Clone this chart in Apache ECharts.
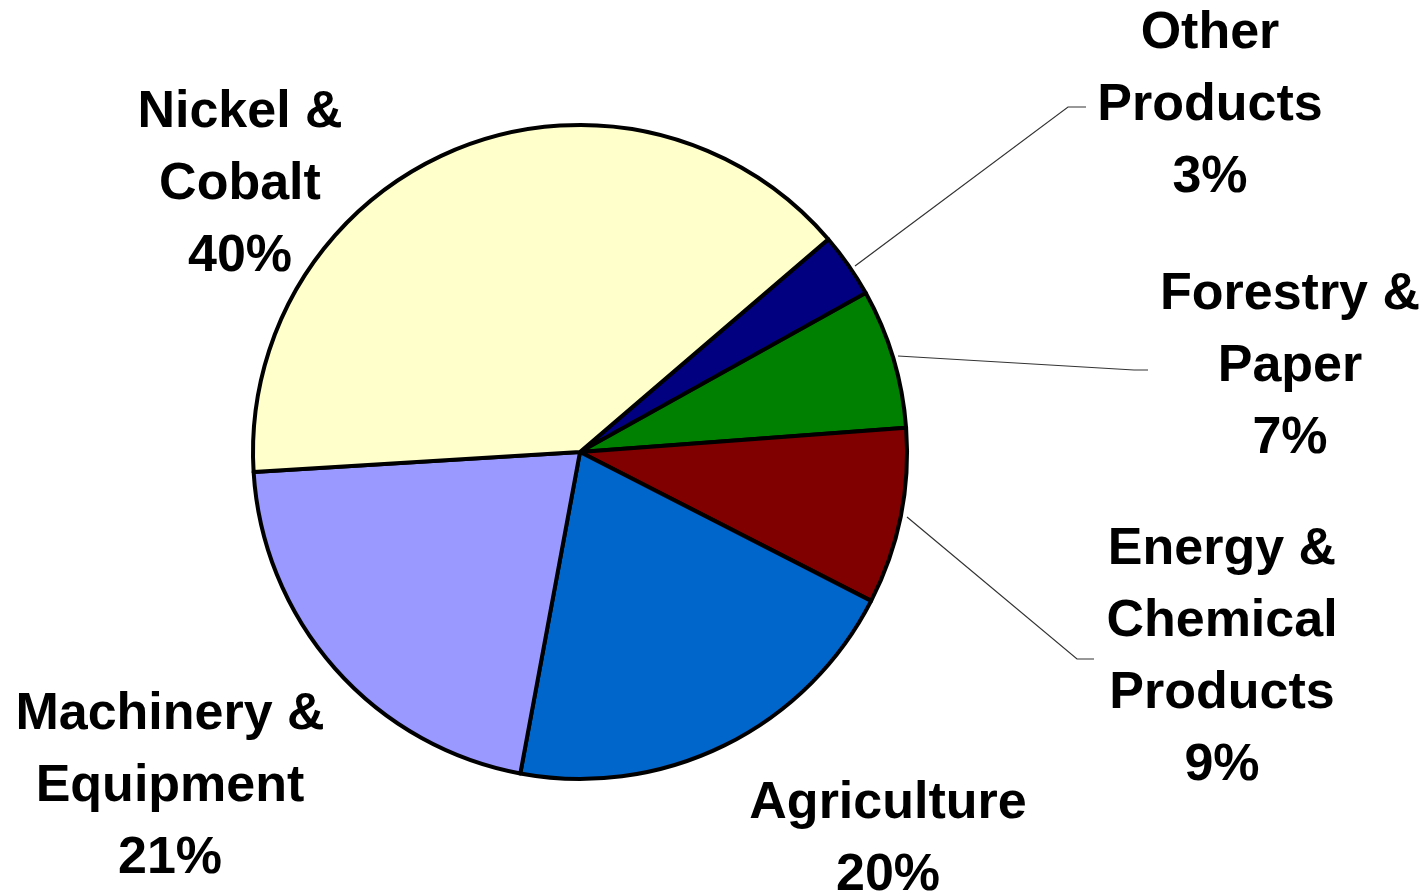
<!DOCTYPE html>
<html>
<head>
<meta charset="utf-8">
<style>
  html, body { margin: 0; padding: 0; background: #ffffff; }
  #chart { width: 1427px; height: 895px; }
</style>
<script src="https://cdn.jsdelivr.net/npm/echarts@6/dist/echarts.min.js"></script>
</head>
<body>
<div id="chart"></div>
<script>
// Data (clockwise order starting at upper right)
var categories = ['Other\nProducts', 'Forestry &\nPaper', 'Energy &\nChemical\nProducts', 'Agriculture', 'Machinery &\nEquipment', 'Nickel &\nCobalt'];
var shares = [3.2, 6.9, 8.7, 20.4, 21.1, 39.7];
var sliceColors = ['#000080', '#008000', '#800000', '#0066CC', '#9999FF', '#FFFFCC'];

// Label placement (layout only)
var labelCenters = [[1210, 106], [1290, 367], [1222, 658], [888, 840], [170, 787], [240, 185]];
var leaderLines = [
  [[855, 266], [1068, 107], [1086, 107]],
  [[898, 356], [1134, 370], [1148, 370]],
  [[907, 517], [1077, 659], [1094, 659]],
  null, null, null
];

var chart = echarts.init(document.getElementById('chart'), null, { renderer: 'canvas' });

var seriesData = categories.map(function (name, i) {
  return {
    name: name,
    value: shares[i],
    itemStyle: { color: sliceColors[i] },
    labelLine: { show: !!leaderLines[i] }
  };
});

chart.setOption({
  backgroundColor: '#ffffff',
  animation: false,
  series: [{
    type: 'pie',
    center: [580, 452],
    radius: 327,
    startAngle: 40.6,
    clockwise: true,
    avoidLabelOverlap: false,
    data: seriesData,
    itemStyle: { borderColor: '#000000', borderWidth: 4 },
    emphasis: { disabled: true },
    label: {
      show: true,
      position: 'outside',
      formatter: function (p) { return p.name + '\n' + Math.round(p.value) + '%'; },
      fontFamily: 'Liberation Sans, Arial, sans-serif',
      fontWeight: 'bold',
      fontSize: 52,
      lineHeight: 72,
      color: '#000000',
      align: 'center'
    },
    labelLine: {
      show: true,
      lineStyle: { color: '#333333', width: 1.2 }
    },
    labelLayout: function (params) {
      var i = params.dataIndex;
      var c = labelCenters[i];
      var res = { x: c[0], y: c[1], align: 'center', verticalAlign: 'middle' };
      if (leaderLines[i]) { res.labelLinePoints = leaderLines[i]; }
      return res;
    }
  }]
});
</script>
</body>
</html>
